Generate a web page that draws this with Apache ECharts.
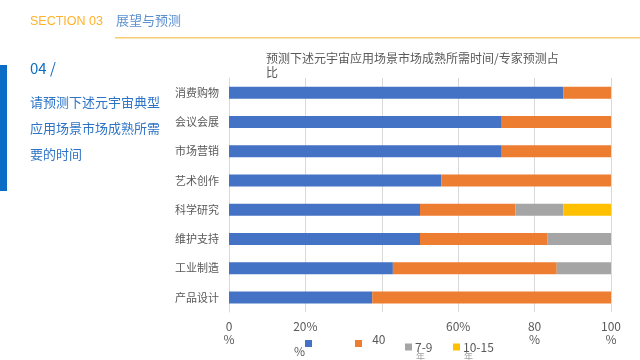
<!DOCTYPE html>
<html><head><meta charset="utf-8">
<script src="https://cdn.jsdelivr.net/npm/echarts@6/dist/echarts.min.js"></script>
<style>html,body{margin:0;padding:0;background:#fff}#c{width:640px;height:360px}</style>
</head><body><div id="c"></div>
<script>
const categories = ['消费购物','会议会展','市场营销','艺术创作','科学研究','维护支持','工业制造','产品设计'];
const seriesNames = ['1-3年','4-6年','7-9年','10-15年'];
const legendLabels = ['', '', '7-9', '10-15'];
const s1 = [87.5, 71.4, 71.4, 55.6, 50, 50, 42.9, 37.5];
const s2 = [12.5, 28.6, 28.6, 44.4, 25, 33.3, 42.9, 62.5];
const s3 = [0, 0, 0, 0, 12.5, 16.7, 14.2, 0];
const s4 = [0, 0, 0, 0, 12.5, 0, 0, 0];
const xTicks = {0:'0\n%',20:'20%',40:'{lo|40}',60:'60%',80:'80\n%',100:'100\n%'};
const colors = ['#4472C4','#ED7D31','#A5A5A5','#FFC000'];
const font = '"Noto Sans CJK SC", "Noto Sans", sans-serif';

const chart = echarts.init(document.getElementById('c'));
const vals = [s1,s2,s3,s4];
const legendX = [305, 355, 405, 453];
chart.setOption({
  animation:false,
  textStyle:{fontFamily:font},
  title:{text:'预测下述元宇宙应用场景市场成熟所需时间/专家预测占\n比', left:261, top:46,
    textStyle:{fontSize:12, fontWeight:'normal', color:'#595959', lineHeight:14, fontFamily:font}},
  grid:{left:229, right:29, top:78, bottom:48},
  legend: seriesNames.map((n,i)=>({data:[n], left:legendX[i], top:340, itemWidth:7, itemHeight:7, itemGap:0, icon:'rect',
    padding:0, formatter:()=>legendLabels[i], align:'left',
    textStyle:{fontSize:12, color:'#595959', lineHeight:14, padding:[0,0,0,-2]}})),
  xAxis:{type:'value', min:0, max:100, interval:20,
    axisLine:{show:false}, axisTick:{show:false},
    splitLine:{lineStyle:{color:'#D9D9D9'}},
    axisLabel:{color:'#595959', fontSize:12, lineHeight:13, margin:8, formatter:v=>xTicks[v],
      rich:{lo:{fontSize:12, color:'#595959', padding:[26,6,0,0]}}}},
  yAxis:{type:'category', data:categories, inverse:true,
    axisLine:{lineStyle:{color:'#D9D9D9'}}, axisTick:{show:false},
    axisLabel:{color:'#595959', fontSize:11, margin:10}},
  series: vals.map((d,i)=>({name:seriesNames[i], type:'bar', stack:'a', data:d, barWidth:12,
    itemStyle:{color:colors[i]}})),
  graphic:[
    {type:'text', left:30, top:15, style:{text:'SECTION 03', fill:'#FFB22C', font:'12.5px "Liberation Sans", Arial, sans-serif'}},
    {type:'text', left:116, top:14, style:{text:'展望与预测', fill:'#5B8FD0', font:'13px '+font}},
    {type:'rect', shape:{x:115, y:37, width:525, height:1.5}, style:{fill:'#FBCB73'}},
    {type:'rect', shape:{x:0, y:65, width:7, height:126}, style:{fill:'#0A6CC4'}},
    {type:'text', left:30, top:61, style:{text:'04 /', fill:'#0A6CC4', font:'15px '+font}},
    {type:'text', left:30, top:89, style:{text:'请预测下述元宇宙典型\n应用场景市场成熟所需\n要的时间', fill:'#2E74C6', font:'13px '+font, lineHeight:26}},
    {type:'text', left:294, top:345, style:{text:'%', fill:'#595959', font:'12px '+font}},
    {type:'text', left:416, top:352, style:{text:'年', fill:'#A0A0A0', font:'9px '+font}},
    {type:'text', left:464, top:352, style:{text:'年', fill:'#A0A0A0', font:'9px '+font}}
  ]
});
</script></body></html>
